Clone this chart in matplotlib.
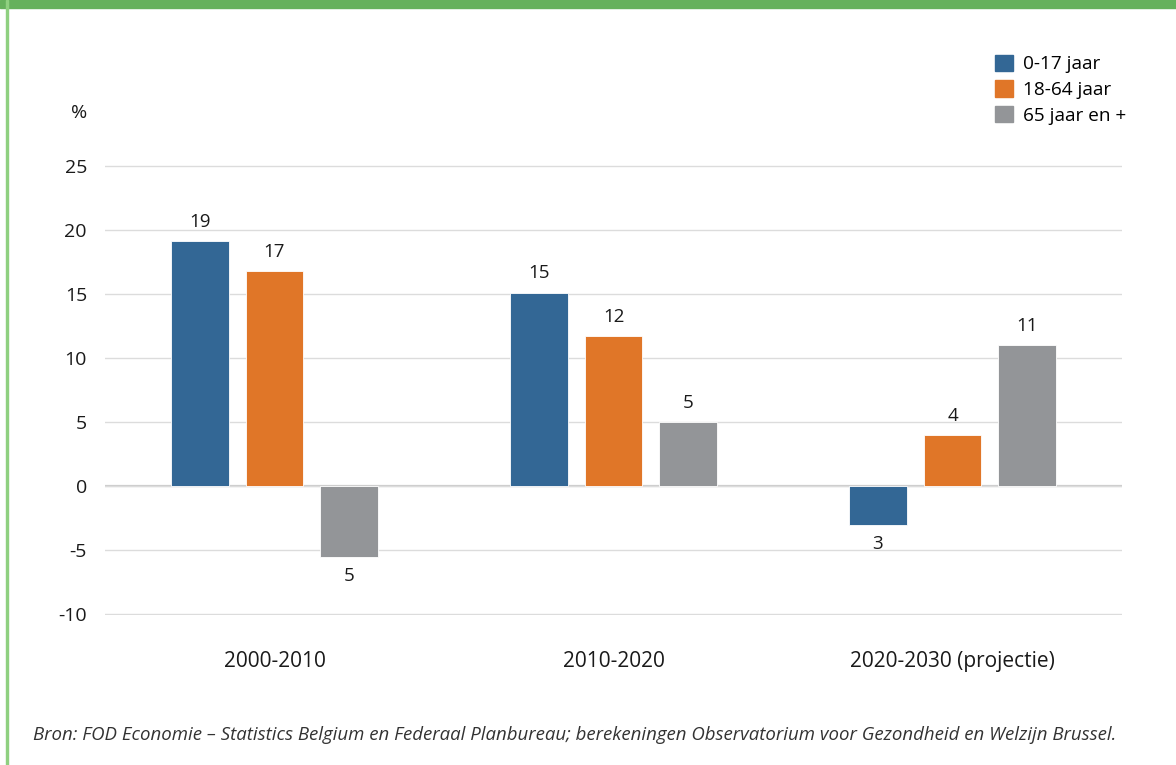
import matplotlib.pyplot as plt
import matplotlib.patches as mpatches
import numpy as np

periods = ["2000-2010", "2010-2020", "2020-2030 (projectie)"]
groups = ["0-17 jaar", "18-64 jaar", "65 jaar en +"]
values = {
    "0-17 jaar": [19.1, 15.1, -3.0],
    "18-64 jaar": [16.8, 11.7, 4.0],
    "65 jaar en +": [-5.5, 5.0, 11.0],
}
bar_labels = {
    "0-17 jaar": ["19", "15", "3"],
    "18-64 jaar": ["17", "12", "4"],
    "65 jaar en +": ["5", "5", "11"],
}
colors = ["#336795", "#e07628", "#939598"]
yticks = [-10, -5, 0, 5, 10, 15, 20, 25]

plt.rcParams["font.family"] = ["Open Sans", "DejaVu Sans"]
txt = "#1a1a1a"

fig = plt.figure(figsize=(11.76, 7.65), dpi=100)
ax = fig.add_axes([105 / 1176, 1 - 615 / 765, 1017 / 1176, 450 / 765])

x = np.arange(len(periods))
width = 0.171
offset = 0.221
for i, g in enumerate(groups):
    pos = x + (i - 1) * offset
    bars = ax.bar(pos, values[g], width, color=colors[i], edgecolor="white",
                  linewidth=0.6, zorder=3, label=g)
    for b, v, lab in zip(bars, values[g], bar_labels[g]):
        xc = b.get_x() + b.get_width() / 2
        if v >= 0:
            ax.text(xc, v + 0.8, lab, ha="center", va="bottom", fontsize=13.5, color=txt)
        else:
            ax.text(xc, v - 0.8, lab, ha="center", va="top", fontsize=13.5, color=txt)

ax.set_xlim(-0.5, 2.5)
ax.set_ylim(-10.05, 25.05)
ax.set_yticks(yticks)
ax.set_yticklabels([str(t) for t in yticks], fontsize=14, color=txt)
ax.set_xticks(x)
ax.set_xticklabels(periods, fontsize=15, color=txt)
ax.tick_params(axis="both", length=0)
ax.tick_params(axis="y", pad=13)
ax.tick_params(axis="x", pad=26)
ax.grid(axis="y", color="#dcdcdc", linewidth=1, zorder=0)
ax.axhline(0, color="#cbcbcb", linewidth=1.6, zorder=1)
for s in ax.spines.values():
    s.set_visible(False)

fig.text(71 / 1176, 1 - 113 / 765, "%", fontsize=14, ha="left", va="center", color=txt)

leg_handles = [mpatches.Patch(color=c, label=g) for c, g in zip(colors, groups)]
fig.legend(handles=leg_handles, loc="upper left", bbox_to_anchor=(985 / 1176, 1 - 45 / 765),
           frameon=False, fontsize=13.7, handlelength=0.95, handleheight=0.95,
           handletextpad=0.55, labelspacing=0.37, borderpad=0)

fig.text(33 / 1176, 1 - 735 / 765,
         "Bron: FOD Economie \u2013 Statistics Belgium en Federaal Planbureau; berekeningen "
         "Observatorium voor Gezondheid en Welzijn Brussel.",
         fontsize=13.4, style="italic", ha="left", va="center", color="#333333")

# green frame
fig.patches.append(mpatches.Rectangle((0, 1 - 8 / 765), 1, 8 / 765, transform=fig.transFigure,
                                      color="#66b15c", zorder=10))
fig.patches.append(mpatches.Rectangle((6 / 1176, 0), 2 / 1176, 1, transform=fig.transFigure,
                                      color="#8fd080", zorder=10))

fig.savefig("out.png", dpi=100)
